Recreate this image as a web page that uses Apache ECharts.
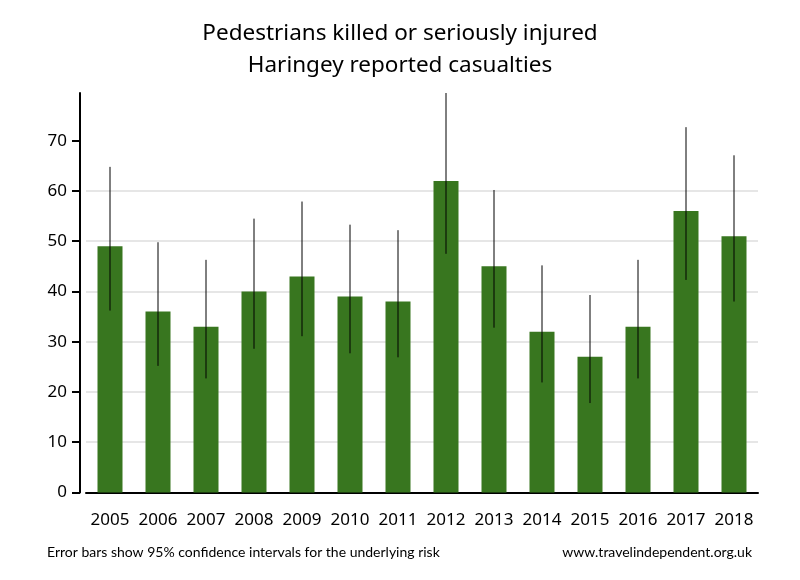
<!DOCTYPE html>
<html>
<head>
<meta charset="utf-8">
<script src="https://cdn.jsdelivr.net/npm/echarts@6/dist/echarts.min.js"></script>
<style>
  body { margin: 0; background: #fff; }
  #main { width: 800px; height: 580px; }
</style>
</head>
<body>
<div id="main"></div>
<script>
  // 数据
  var years = ['2005', '2006', '2007', '2008', '2009', '2010', '2011',
               '2012', '2013', '2014', '2015', '2016', '2017', '2018'];
  var casualties = [49, 36, 33, 40, 43, 39, 38, 62, 45, 32, 27, 33, 56, 51];
  // 95% 置信区间
  var ciLow  = [36.2, 25.2, 22.7, 28.6, 31.1, 27.7, 26.9, 47.5, 32.8, 21.9, 17.8, 22.7, 42.3, 38.0];
  var ciHigh = [64.8, 49.8, 46.3, 54.5, 57.9, 53.3, 52.2, 79.5, 60.2, 45.2, 39.3, 46.3, 72.7, 67.1];
  var yTicks = [0, 10, 20, 30, 40, 50, 60, 70];

  var errData = [];
  for (var i = 0; i < years.length; i++) {
    errData.push([i, ciLow[i], ciHigh[i]]);
  }

  var myChart = echarts.init(document.getElementById('main'));
  var option = {
    backgroundColor: '#fff',
    animation: false,
    title: {
      text: 'Pedestrians killed or seriously injured\nHaringey reported casualties',
      left: 'center',
      top: 13,
      textStyle: {
        fontFamily: 'Noto Sans',
        fontSize: 22.5,
        fontWeight: 'normal',
        color: '#000',
        lineHeight: 32
      }
    },
    grid: {
      left: 86,
      right: 42,
      top: 93,
      bottom: 87.5
    },
    xAxis: {
      type: 'category',
      data: years,
      axisLine: { lineStyle: { color: '#000', width: 2 } },
      axisTick: { show: false },
      axisLabel: {
        interval: 0,
        margin: 19,
        fontFamily: 'Noto Sans',
        fontSize: 17,
        color: '#000'
      }
    },
    yAxis: {
      type: 'value',
      min: 0,
      max: 79.5,
      interval: 10,
      offset: 6,
      axisLine: { show: true, lineStyle: { color: '#000', width: 2 } },
      axisTick: {
        show: true,
        length: 8,
        customValues: yTicks,
        lineStyle: { color: '#000', width: 2 }
      },
      axisLabel: {
        margin: 13,
        customValues: yTicks,
        fontFamily: 'Noto Sans',
        fontSize: 17,
        color: '#000'
      },
      splitLine: {
        show: true,
        showMaxLine: false,
        lineStyle: { color: '#e6e6e6', width: 2 }
      }
    },
    series: [
      {
        name: 'casualties',
        type: 'bar',
        data: casualties,
        barWidth: 25,
        itemStyle: { color: '#38761f' }
      },
      {
        name: 'ci',
        type: 'custom',
        data: errData,
        z: 5,
        renderItem: function (params, api) {
          var x = api.value(0);
          var lo = api.coord([x, api.value(1)]);
          var hi = api.coord([x, api.value(2)]);
          return {
            type: 'line',
            shape: { x1: lo[0], y1: lo[1], x2: hi[0], y2: hi[1] },
            style: { stroke: '#000', lineWidth: 1 }
          };
        }
      }
    ],
    graphic: [
      {
        type: 'text',
        left: 47,
        top: 545,
        style: {
          text: 'Error bars show 95% confidence intervals for the underlying risk',
          font: '14px Lato',
          fill: '#000'
        }
      },
      {
        type: 'text',
        right: 48,
        top: 545,
        style: {
          text: 'www.travelindependent.org.uk',
          font: '14px Lato',
          fill: '#000'
        }
      }
    ]
  };
  myChart.setOption(option);
</script>
</body>
</html>
